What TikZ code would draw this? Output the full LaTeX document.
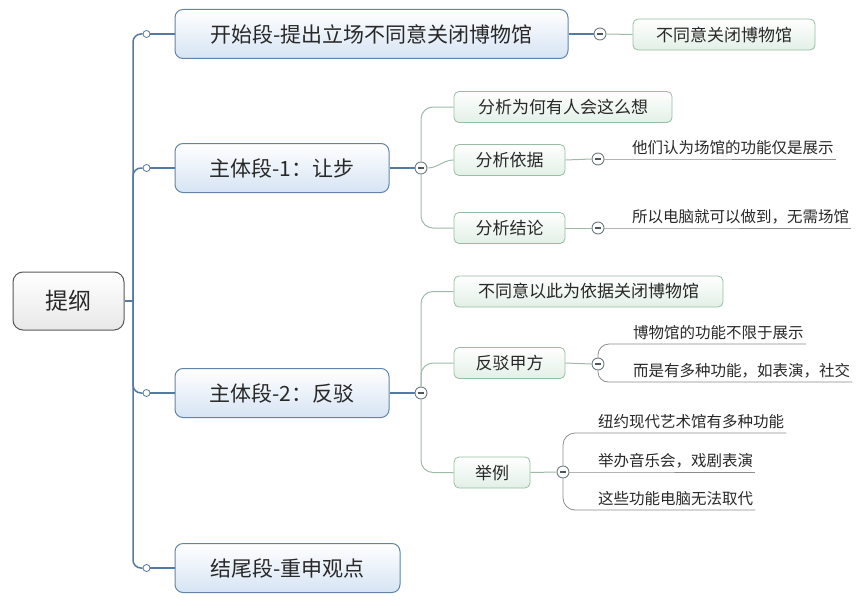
\documentclass[tikz,border=0pt]{standalone}
\usepackage{fontspec}
\setmainfont{Noto Sans CJK SC}
\definecolor{trunkblue}{RGB}{82,122,162}
\definecolor{topicedge}{RGB}{98,132,170}
\definecolor{topicfill}{RGB}{214,228,244}
\definecolor{rootedge}{RGB}{88,88,88}
\definecolor{rootfill}{RGB}{232,232,232}
\definecolor{subedge}{RGB}{150,190,162}
\definecolor{subfill}{RGB}{226,240,230}
\definecolor{twiggreen}{RGB}{160,186,168}
\definecolor{foldgray}{RGB}{110,124,132}
\definecolor{linegray}{RGB}{140,140,140}
\definecolor{textgray}{RGB}{40,40,40}

\tikzset{
  rootbox/.style={draw=rootedge, line width=1pt, rounded corners=10pt, top color=white, bottom color=rootfill,
    text=textgray, font=\fontsize{23}{26}\selectfont, minimum width=111pt, minimum height=58pt},
  topicbox/.style={draw=topicedge, line width=1pt, rounded corners=8pt, top color=white, bottom color=topicfill,
    text=textgray, font=\fontsize{21}{24}\selectfont, minimum height=49pt},
  subbox/.style={draw=subedge, line width=0.8pt, rounded corners=5pt, top color=white, bottom color=subfill,
    text=textgray, font=\fontsize{17}{20}\selectfont, minimum height=31pt},
  leaf/.style={anchor=south west, inner xsep=2pt, inner ysep=4pt, text=textgray, font=\fontsize{15.5}{18}\selectfont},
  knob/.style={circle, draw=trunkblue, fill=white, line width=0.8pt, minimum size=7pt, inner sep=0pt},
  fold/.style={circle, draw=foldgray, fill=white, line width=0.9pt, minimum size=12pt, inner sep=0pt,
    path picture={\draw[line width=1.3pt, foldgray!70!black]
      ([xshift=-3pt]path picture bounding box.center) -- ([xshift=3pt]path picture bounding box.center);}},
  trunk/.style={draw=trunkblue, line width=1.5pt},
  twig/.style={draw=twiggreen, line width=1pt},
  underline/.style={draw=linegray, line width=0.8pt},
}

\begin{document}
\begin{tikzpicture}[x=1pt,y=-1pt]
    \useasboundingbox (0,0) rectangle (864,602);

    % root and main topics
    \node[rootbox] (root) at (68.5,301) {提纲};
    \coordinate (hub) at (133,301);
    \node[topicbox, minimum width=393pt] (m1) at (371.5,34) {开始段-提出立场不同意关闭博物馆};
    \node[topicbox, minimum width=214pt] (m2) at (282,168) {主体段-1：让步};
    \node[topicbox, minimum width=214pt] (m3) at (282,393) {主体段-2：反驳};
    \node[topicbox, minimum width=225pt] (m4) at (287.5,568) {结尾段-重申观点};
    \foreach \k/\y in {k1/34,k2/168,k3/393,k4/568}
        \node[knob] (\k) at (146.5,\y) {};

    \draw[trunk] (root.east) -- (hub);
    \foreach \k/\m in {k1/m1,k2/m2,k3/m3,k4/m4} {
        \draw[trunk, rounded corners=8pt] (hub) |- (\k.west);
        \draw[trunk] (\k.east) -- (\m.west);
    }

    % sub topics
    \node[subbox, minimum width=182pt] (g0) at (724,34.5) {不同意关闭博物馆};
    \node[subbox, minimum width=218pt] (a1) at (563,107) {分析为何有人会这么想};
    \node[subbox, minimum width=111pt] (a2) at (509.5,160) {分析依据};
    \node[subbox, minimum width=111pt] (a3) at (509.5,228) {分析结论};
    \node[subbox, minimum width=269pt] (b1) at (588.5,291.5) {不同意以此为依据关闭博物馆};
    \node[subbox, minimum width=111pt] (b2) at (509.5,363) {反驳甲方};
    \node[subbox, minimum width=76pt] (b3) at (492,472.5) {举例};

    \node[fold] (f0) at (600,34) {};
    \node[fold] (f1) at (421,168) {};
    \node[fold] (f2) at (421,393) {};
    \node[fold] (f3) at (598,159) {};
    \node[fold] (f4) at (598,228) {};
    \node[fold] (f5) at (598,364) {};
    \node[fold] (f6) at (563,472) {};

    \draw[trunk] (m1.east) -- (f0.west);
    \draw[twig] (f0.east) -- (g0.west);
    \draw[trunk] (m2.east) -- (f1.west);
    \draw[trunk] (m3.east) -- (f2.west);
    \draw[twig, rounded corners=12pt] (f1.north) |- (a1.west);
    \draw[twig] (f1.east) to[out=0,in=180] (a2.west);
    \draw[twig, rounded corners=12pt] (f1.south) |- (a3.west);
    \draw[twig, rounded corners=12pt] (f2.north) |- (b1.west);
    \draw[twig, rounded corners=12pt] (f2.north) |- (b2.west);
    \draw[twig, rounded corners=12pt] (f2.south) |- (b3.west);
    \draw[twig] (a2.east) -- (f3.west);
    \draw[twig] (a3.east) -- (f4.west);
    \draw[twig] (b2.east) -- (f5.west);
    \draw[twig] (b3.east) -- (f6.west);

    % leaves
    \node[leaf] (l1) at (630,159) {他们认为场馆的功能仅是展示};
    \node[leaf] (l2) at (630,228) {所以电脑就可以做到，无需场馆};
    \node[leaf] (l3) at (631,344) {博物馆的功能不限于展示};
    \node[leaf] (l4) at (631,382) {而是有多种功能，如表演，社交};
    \node[leaf] (l5) at (596,433) {纽约现代艺术馆有多种功能};
    \node[leaf] (l6) at (596,472) {举办音乐会，戏剧表演};
    \node[leaf] (l7) at (596,510) {这些功能电脑无法取代};

    \draw[underline] (f3.east) -- (l1.south west) -- (l1.south east);
    \draw[underline] (f4.east) -- (l2.south west) -- (l2.south east);
    \draw[underline, rounded corners=11pt] (f5.north) |- (l3.south west) -- (l3.south east);
    \draw[underline, rounded corners=10pt] (f5.south) |- (l4.south west) -- (l4.south east);
    \draw[underline, rounded corners=12pt] (f6.north) |- (l5.south west) -- (l5.south east);
    \draw[underline] (f6.east) -- (l6.south west) -- (l6.south east);
    \draw[underline, rounded corners=12pt] (f6.south) |- (l7.south west) -- (l7.south east);
\end{tikzpicture}
\end{document}
